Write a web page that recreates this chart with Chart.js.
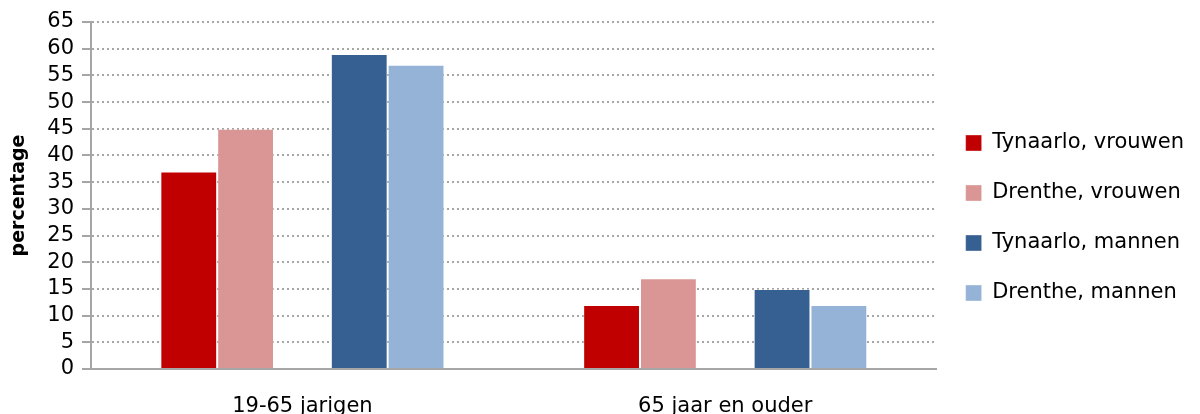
<!DOCTYPE html>
<html>
<head>
<meta charset="utf-8">
<script src="https://cdn.jsdelivr.net/npm/chart.js@4/dist/chart.umd.min.js"></script>
<style>
  html, body { margin: 0; padding: 0; background: #fff; }
  #wrap { width: 1200px; height: 414px; }
</style>
</head>
<body>
<div id="wrap"><canvas id="chart" width="1200" height="414"></canvas></div>
<script>
// categories and series
const categories = ['19-65 jarigen', '65 jaar en ouder'];
const tynaarloVrouwen = [37, 12];
const drentheVrouwen = [45, 17];
const tynaarloMannen = [59, 15];
const drentheMannen = [57, 12];
const yTicks = [0, 5, 10, 15, 20, 25, 30, 35, 40, 45, 50, 55, 60, 65];

const FONT = "'DejaVu Sans', 'Liberation Sans', sans-serif";

function bar(label, data, color) {
  return {
    label,
    data,
    backgroundColor: color,
    borderColor: 'rgba(255,255,255,0.35)',
    borderWidth: 1,
  };
}

const datasets = [
  bar('Tynaarlo, vrouwen', tynaarloVrouwen, '#C00000'),
  bar('Drenthe, vrouwen', drentheVrouwen, '#D99694'),
  // empty slot between the women and men bars, as in the original
  { label: '', data: categories.map(() => null), backgroundColor: 'rgba(0,0,0,0)' },
  bar('Tynaarlo, mannen', tynaarloMannen, '#376092'),
  bar('Drenthe, mannen', drentheMannen, '#95B3D7'),
];

/* global Chart */
new Chart(document.getElementById('chart').getContext('2d'), {
  type: 'bar',
  data: { labels: categories, datasets },
  options: {
    responsive: false,
    animation: false,
    layout: { padding: { top: 22, right: 6, left: 8, bottom: 0 } },
    datasets: { bar: { categoryPercentage: 0.672, barPercentage: 1.0 } },
    plugins: {
      tooltip: { enabled: false },
      legend: {
        position: 'right',
        labels: {
          filter: (item) => item.text !== '',
          boxWidth: 16,
          boxHeight: 16,
          padding: 29,
          color: '#000',
          font: { family: FONT, size: 21 },
        },
      },
    },
    scales: {
      x: {
        afterFit: (scale) => { scale.height = 45; },
        grid: { display: false },
        border: { color: '#a6a6a6', width: 2 },
        ticks: { color: '#000', padding: 17, font: { family: FONT, size: 21 } },
      },
      y: {
        min: 0,
        max: 65,
        afterBuildTicks: (scale) => { scale.ticks = yTicks.map((v) => ({ value: v })); },
        afterFit: (scale) => { scale.width = 83; },
        title: {
          display: true,
          text: 'percentage',
          color: '#000',
          padding: 0,
          font: { family: FONT, size: 19, weight: 'bold' },
        },
        grid: {
          color: '#a6a6a6',
          lineWidth: 2,
          tickLength: 9,
          tickBorderDash: [],
          drawTicks: true,
        },
        border: { color: '#a6a6a6', width: 2, dash: [2, 3] },
        ticks: { color: '#000', padding: 8, autoSkip: false, font: { family: FONT, size: 21 } },
      },
    },
  },
});
</script>
</body>
</html>
